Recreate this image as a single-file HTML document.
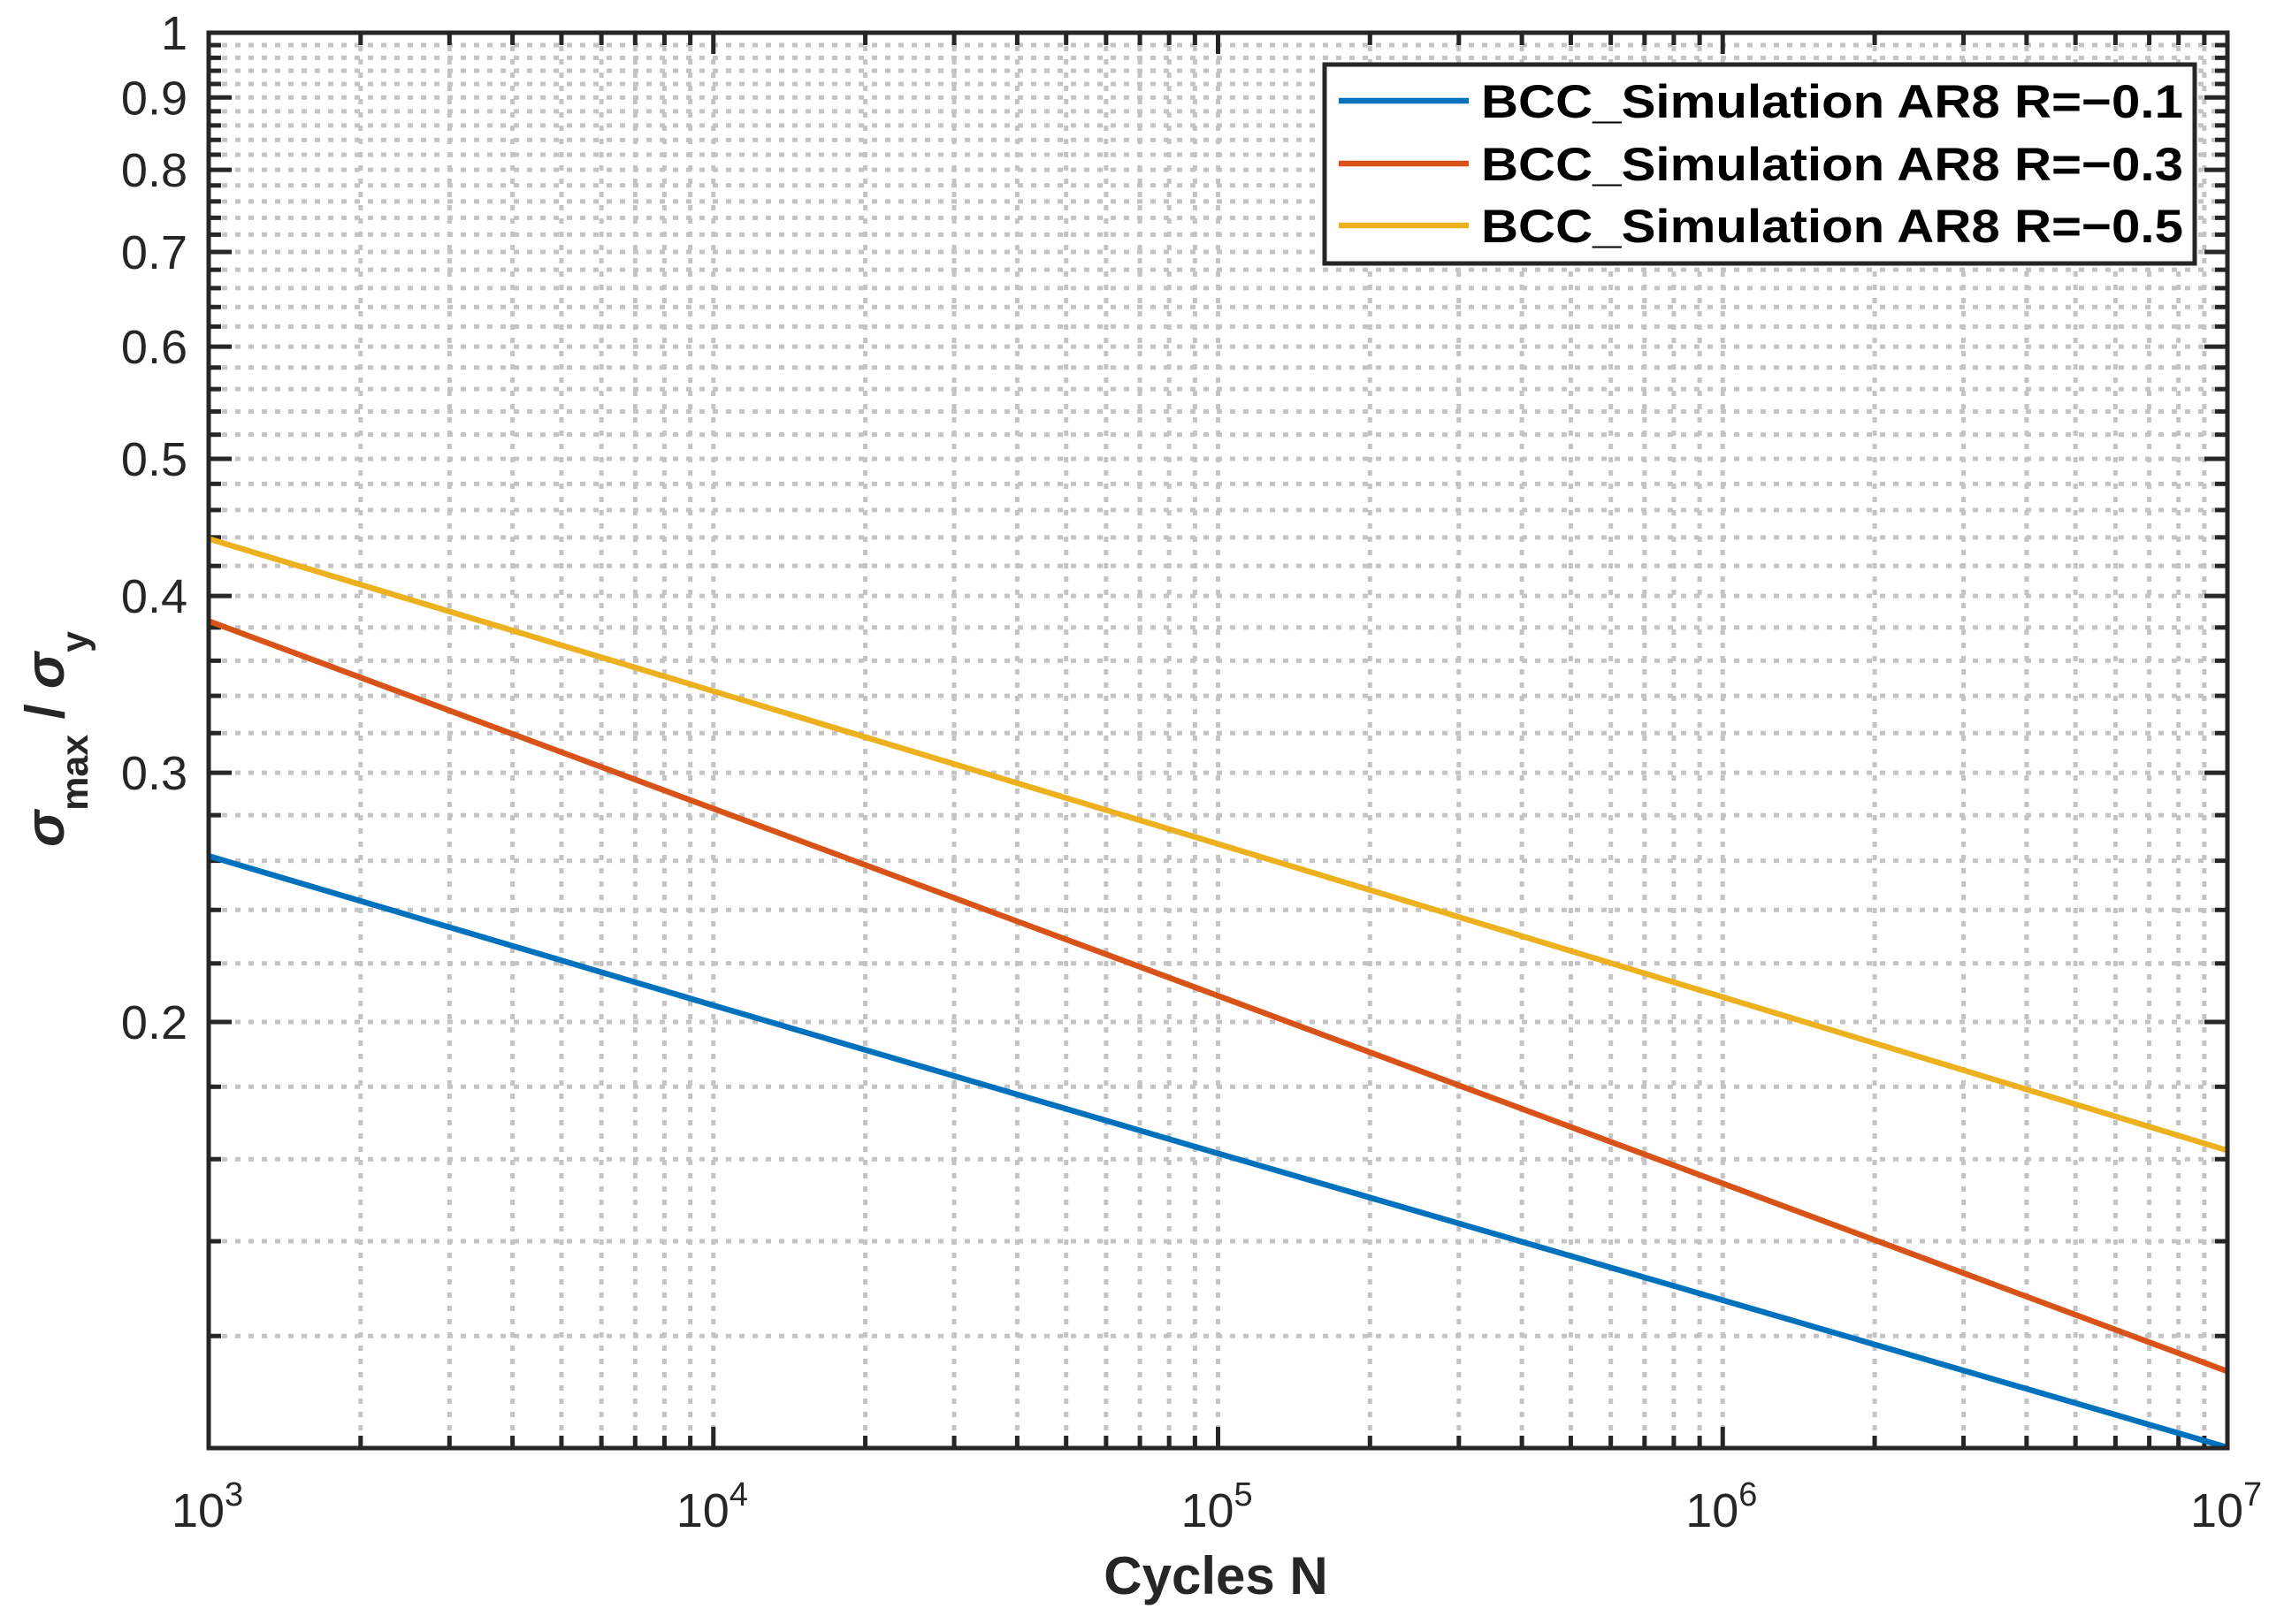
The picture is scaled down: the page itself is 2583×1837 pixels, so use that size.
<!DOCTYPE html>
<html><head><meta charset="utf-8"><style>
html,body{margin:0;padding:0;background:#fff;}
svg{display:block;font-family:"Liberation Sans",Arial,sans-serif;}
</style></head><body>
<svg id="chart" width="2583" height="1837" viewBox="0 0 2583 1837" xmlns="http://www.w3.org/2000/svg">
<rect width="2583" height="1837" fill="#fff"/>
<g id="grid"></g>
<g id="ticks"></g>
<g id="series"></g>
<rect x="236" y="37" width="2283" height="1601" fill="none" stroke="#262626" stroke-width="5"/>
<g id="labels"></g>
<text x="1375" y="1803" text-anchor="middle" font-size="60" font-weight="bold" fill="#262626">Cycles N</text>
<text transform="translate(72,836) rotate(-90)" text-anchor="middle" font-size="62" font-weight="bold" fill="#262626"><tspan font-style="italic">σ</tspan><tspan font-size="43" dy="27">max</tspan><tspan dy="-27"> / </tspan><tspan font-style="italic">σ</tspan><tspan font-size="43" dy="27">y</tspan></text>
<g id="legend">
<rect x="1498" y="73" width="984" height="225" fill="#fff" stroke="#262626" stroke-width="5"/>
</g>
</svg>
<script>
const xTickValues = [1e3, 1e4, 1e5, 1e6, 1e7];
const xTickExps = ["3", "4", "5", "6", "7"];
const yTickValues = [0.2, 0.3, 0.4, 0.5, 0.6, 0.7, 0.8, 0.9, 1];
const yTickLabels = ["0.2", "0.3", "0.4", "0.5", "0.6", "0.7", "0.8", "0.9", "1"];
const cyclesN = [1e3, 1e4, 1e5, 1e6, 1e7];
const seriesR01 = [0.262, 0.2055, 0.1615, 0.1272, 0.1001];
const seriesR03 = [0.384, 0.283, 0.2087, 0.1538, 0.1133];
const seriesR05 = [0.439, 0.3426, 0.2672, 0.2083, 0.1623];
const seriesNames = ["BCC_Simulation AR8 R=\u22120.1", "BCC_Simulation AR8 R=\u22120.3", "BCC_Simulation AR8 R=\u22120.5"];

const NS = "http://www.w3.org/2000/svg";
const X0 = 236, X1 = 2519, Y0 = 37, Y1 = 1638;
const xMin = 1e3, xMax = 1e7, yMin = 0.1, yMax = 1;
function xs(v){ return X0 + (Math.log10(v) - Math.log10(xMin)) / (Math.log10(xMax) - Math.log10(xMin)) * (X1 - X0); }
function ys(v){ return Y1 - (Math.log10(v) - Math.log10(yMin)) / (Math.log10(yMax) - Math.log10(yMin)) * (Y1 - Y0); }
function mk(tag, attrs, parent){ const e = document.createElementNS(NS, tag); for (const k in attrs) e.setAttribute(k, attrs[k]); parent.appendChild(e); return e; }

const grid = document.getElementById('grid');
const ticks = document.getElementById('ticks');
const labels = document.getElementById('labels');

for (let d = 3; d < 7; d++) {
  for (let m = 1; m <= 10; m++) {
    const v = m * Math.pow(10, d);
    if (m === 10 && d !== 6) continue;
    const x = xs(v);
    if (x > X0 + 1 && x < X1 - 1) {
      const g = mk('line', {x1:x, y1:Y0, x2:x, y2:Y1, stroke:'#c4c4c4', 'stroke-width':5, 'stroke-dasharray':'6 9'}, grid);
      
      
    }
    const major = (m === 1 || m === 10);
    const len = major ? 24 : 14;
    const t1 = mk('line', {x1:x, y1:Y1, x2:x, y2:Y1 - len, stroke:'#262626', 'stroke-width':5}, ticks);
    
    
    const t2 = mk('line', {x1:x, y1:Y0, x2:x, y2:Y0 + len, stroke:'#262626', 'stroke-width':5}, ticks);
    
    
  }
}
for (let i = 6; i <= 49; i++) {
  const v = i * 0.02;
  const y = ys(v);
  const g = mk('line', {x1:X0, y1:y, x2:X1, y2:y, stroke:'#c4c4c4', 'stroke-width':5, 'stroke-dasharray':'6 9'}, grid);
  
  
  const major = (i % 5 === 0);
  const len = major ? 26 : 14;
  const t1 = mk('line', {x1:X0, y1:y, x2:X0 + len, y2:y, stroke:'#262626', 'stroke-width':5}, ticks);
  
  
  const t2 = mk('line', {x1:X1, y1:y, x2:X1 - len, y2:y, stroke:'#262626', 'stroke-width':5}, ticks);
  
  
}
yTickValues.forEach((v, i) => {
  const t = mk('text', {x:212, y:ys(v) + 19, 'text-anchor':'end', 'font-size':54, fill:'#262626'}, labels);
  t.textContent = yTickLabels[i];
  
  
});
xTickValues.forEach((v, i) => {
  const t = mk('text', {x:xs(v) - 12, y:1727, 'text-anchor':'middle', 'font-size':54, fill:'#262626'}, labels);
  t.textContent = '10';
  
  
  const s = mk('text', {x:xs(v) + 18, y:1703, 'text-anchor':'start', 'font-size':38, fill:'#262626'}, labels);
  s.textContent = xTickExps[i];
  
  
});
const seriesData = [seriesR01, seriesR03, seriesR05];
const colors = ['#0072BD', '#D95319', '#EDB120'];
const sg = document.getElementById('series');
seriesData.forEach((arr, k) => {
  const pts = arr.map((v, i) => xs(cyclesN[i]).toFixed(1) + ',' + ys(v).toFixed(1)).join(' ');
  const p = mk('polyline', {points:pts, fill:'none', stroke:colors[k], 'stroke-width':6.5, 'stroke-linejoin':'round'}, sg);
  
  
});
const lg = document.getElementById('legend');
const ly = [114, 185, 255];
seriesNames.forEach((n, k) => {
  const l = mk('line', {x1:1514, y1:ly[k], x2:1661, y2:ly[k], stroke:colors[k], 'stroke-width':6.5}, lg);
  
  
  const t = mk('text', {x:1675, y:ly[k] + 19, 'font-size':53, 'font-weight':'bold', fill:'#000', textLength:794, lengthAdjust:'spacingAndGlyphs'}, lg);
  t.textContent = n;
  
  
});
</script>
</body></html>
